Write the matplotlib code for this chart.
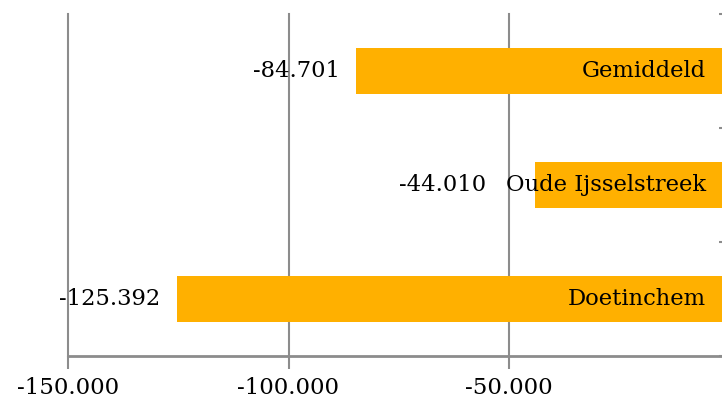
import matplotlib.pyplot as plt
from matplotlib.ticker import FixedLocator

categories = ['Doetinchem', 'Oude Ijsselstreek', 'Gemiddeld']
values = [-125392, -44010, -84701]
value_labels = ['-125.392', '-44.010', '-84.701']
xticks = [-150000, -100000, -50000, 0]
xtick_labels = ['-150.000', '-100.000', '-50.000', '0']

plt.rcParams['font.family'] = ['DejaVu Serif']

fig = plt.figure(figsize=(7.22, 4.03), dpi=100)
ax = fig.add_axes([68 / 722, 1 - 356 / 403, (729.5 - 68) / 722, (356 - 14) / 403])

ypos = list(range(len(categories)))
ax.barh(ypos, values, height=0.4, color='#ffb000', zorder=2)

ax.set_xlim(-150000, 0)
ax.set_ylim(-0.5, 2.5)

fig.canvas.draw()
renderer = fig.canvas.get_renderer()
inv = ax.transData.inverted()

for y, v, lab, cat in zip(ypos, values, value_labels, categories):
    t = ax.text(-5300, y, cat, ha='right', va='center', fontsize=16.3, color='black', zorder=3)
    # left edge of the category name, in data units
    left_px = t.get_window_extent(renderer).x0
    cat_left = inv.transform((left_px, 0))[0]
    xlab = min(v - 3600, cat_left - 4500)
    ax.text(xlab, y, lab, ha='right', va='center', fontsize=16.3, color='black', zorder=3)

ax.set_xticks(xticks)
ax.set_xticklabels(xtick_labels, fontsize=16.5)
ax.set_yticks([])
ax.yaxis.set_minor_locator(FixedLocator([-0.5, 0.5, 1.5, 2.5]))
ax.yaxis.set_ticks_position('right')
ax.tick_params(axis='y', which='minor', left=False, right=True, direction='in',
               length=8, color='#8c8c8c', width=1.5)
ax.tick_params(axis='x', length=9, width=1.5, color='#8c8c8c', pad=6)
ax.grid(axis='x', color='#8c8c8c', linewidth=1.5, zorder=0)
for gl in ax.xaxis.get_gridlines():
    gl.set_clip_on(False)

for side in ['top', 'left', 'right']:
    ax.spines[side].set_visible(False)
ax.spines['bottom'].set_color('#8c8c8c')
ax.spines['bottom'].set_linewidth(2)

fig.savefig('out.png', dpi=100)
